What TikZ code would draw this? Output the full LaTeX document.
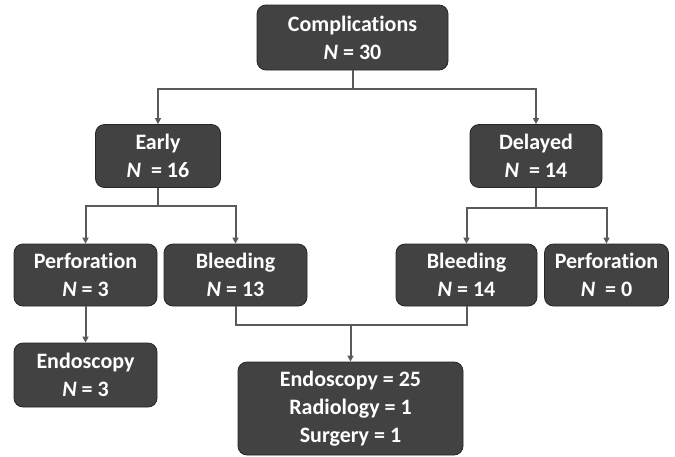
\documentclass[tikz,border=0pt]{standalone}
\usepackage{fontspec}
\setmainfont{Carlito}[Ligatures=NoCommon]
\usetikzlibrary{arrows.meta}
\definecolor{boxFill}{RGB}{66,66,66}
\definecolor{boxEdge}{RGB}{38,38,38}
\definecolor{lineGray}{RGB}{90,90,90}
\begin{document}
\begin{tikzpicture}[x=1pt, y=-1pt,
    boxStyle/.style={rectangle, rounded corners=9pt, draw=boxEdge, line width=0.8pt, fill=boxFill, text=white, align=center, inner sep=0pt, font=\fontsize{22}{28}\selectfont\bfseries},
    lineStyle/.style={draw=lineGray, line width=2pt},
    arrowStyle/.style={lineStyle, -{Triangle[length=6pt, width=6pt]}}]
    \useasboundingbox (0,0) rectangle (675,456);

    \node[boxStyle, minimum width=191pt, minimum height=65pt] (comp)    at (352.5, 37.5) {Complications\\\textit{N} = 30};

    \node[boxStyle, minimum width=125pt, minimum height=63pt] (early)   at (158, 156) {Early\\\textit{N}\hspace{0.45em}= 16};
    \node[boxStyle, minimum width=132pt, minimum height=63pt] (delayed) at (536, 156) {Delayed\\\textit{N}\hspace{0.45em}= 14};

    \node[boxStyle, minimum width=143pt, minimum height=62pt] (perfE)   at ( 85.5, 275) {Perforation\\\textit{N} = 3};
    \node[boxStyle, minimum width=143pt, minimum height=62pt] (bleedE)  at (235.5, 275) {Bleeding\\\textit{N} = 13};
    \node[boxStyle, minimum width=141pt, minimum height=62pt] (bleedD)  at (466.5, 275) {Bleeding\\\textit{N} = 14};
    \node[boxStyle, minimum width=124pt, minimum height=62pt] (perfD)   at (606.5, 275) {Perforation\\\textit{N}\hspace{0.45em}= 0};

    \node[boxStyle, minimum width=143pt, minimum height=64pt] (endoE)   at ( 85.5, 375) {Endoscopy\\\textit{N} = 3};
    \node[boxStyle, minimum width=225pt, minimum height=93pt] (treat)   at (350.5, 408.5) {Endoscopy = 25\\Radiology = 1\\Surgery = 1};

    \draw[lineStyle] (comp.south) -- ++(0,19) coordinate (j0);
    \draw[arrowStyle] (j0) -| (early.north);
    \draw[arrowStyle] (j0) -| (delayed.north);

    \draw[lineStyle] (early.south) -- ++(0,18) coordinate (j1);
    \draw[arrowStyle] (j1) -| (perfE.north);
    \draw[arrowStyle] (j1) -| (bleedE.north);

    \draw[lineStyle] (delayed.south) -- ++(0,20) coordinate (j2);
    \draw[arrowStyle] (j2) -| (bleedD.north);
    \draw[arrowStyle] (j2) -| (perfD.north);

    \draw[arrowStyle] (perfE.south) -- (endoE.north);

    \draw[lineStyle] (bleedE.south) -- ++(0,19) coordinate (jb) -| (bleedD.south);
    \coordinate (j3) at (treat.north |- jb);
    \draw[arrowStyle] (j3) -- (treat.north);
\end{tikzpicture}
\end{document}
